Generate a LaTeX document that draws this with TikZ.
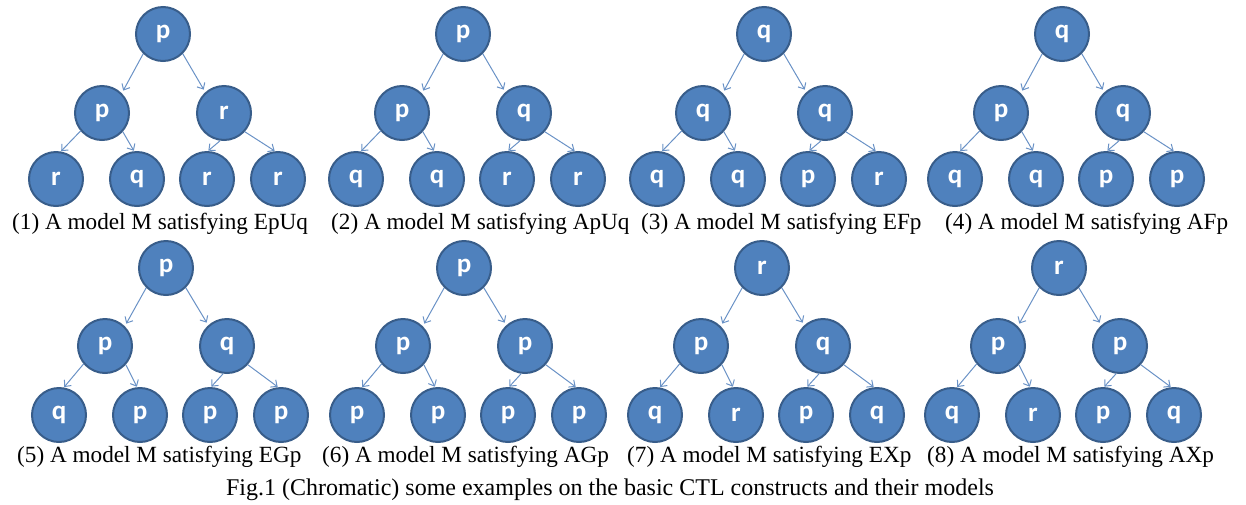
\documentclass[tikz,border=0pt]{standalone}
\usepackage{fontspec}
\setmainfont{Liberation Serif}
\newfontfamily\lblfont{Carlito}
\usetikzlibrary{arrows.meta}
\definecolor{nodefill}{HTML}{4F81BD}
\definecolor{nodeline}{HTML}{385D8A}
\definecolor{edgecol}{HTML}{6A92C6}
\tikzset{
  state/.style={circle, minimum size=54pt, inner sep=0pt, fill=nodefill, draw=nodeline, line width=2pt,
    text=white, font=\lblfont\bfseries\fontsize{27}{27}\selectfont},
  edge/.style={draw=edgecol, line width=1pt, -{Straight Barb[length=5pt,width=9pt]}},
  captext/.style={anchor=base west, inner sep=0pt, font=\fontsize{23.2}{28}\selectfont},
  figtext/.style={anchor=base, inner sep=0pt, font=\fontsize{24}{28}\selectfont},
}
% #1 prefix, #2 root x, #3..#9 labels (root, L, R, LL, LR, RL, RR)
\newcommand\ctltree[9]{%
  \node[state] (#1r) at (#2,\ya) {#3};
  \node[state] (#1a) at (#2-61,\yb) {#4};
  \node[state] (#1b) at (#2+61,\yb) {#5};
  \node[state] (#1aa) at (#2-107,\yc) {#6};
  \node[state] (#1ab) at (#2-26,\yc) {#7};
  \node[state] (#1ba) at (#2+44,\yc) {#8};
  \node[state] (#1bb) at (#2+115,\yc) {#9};
  \draw[edge, shorten >=3pt] (#1r.225) -- (#1a.45);
  \draw[edge, shorten >=3pt] (#1r.315) -- (#1b.132);
  \draw[edge, shorten >=0.5pt] (#1a.220) -- (#1aa.80);
  \draw[edge, shorten >=0.5pt] (#1a.318) -- (#1ab.96);
  \draw[edge, shorten >=0.5pt] (#1b.262) -- (#1ba.88);
  \draw[edge, shorten >=0.5pt] (#1b.318) -- (#1bb.96);
}
\begin{document}
\begin{tikzpicture}[x=1pt,y=-1pt]
\useasboundingbox (0,0) rectangle (1246,504);
% row 1
\def\ya{34}\def\yb{113}\def\yc{179}
\ctltree{t1}{163}{p}{p}{r}{r}{q}{r}{r}
\ctltree{t2}{463}{p}{p}{q}{q}{q}{r}{r}
\ctltree{t3}{764}{q}{q}{q}{q}{q}{p}{r}
\ctltree{t4}{1062}{q}{p}{q}{q}{q}{p}{p}
\node[captext] (c1) at (12,229) {(1) A model M satisfying EpUq};
\node[captext] (c2) at (331,229) {(2) A model M satisfying ApUq};
\node[captext] (c3) at (641,229) {(3) A model M satisfying EFp};
\node[captext] (c4) at (945,229) {(4) A model M satisfying AFp};
% row 2
\def\ya{268}\def\yb{346}\def\yc{415}
\ctltree{t5}{166}{p}{p}{q}{q}{p}{p}{p}
\ctltree{t6}{464}{p}{p}{p}{p}{p}{p}{p}
\ctltree{t7}{762}{r}{p}{q}{q}{r}{p}{q}
\ctltree{t8}{1059}{r}{p}{p}{q}{r}{p}{q}
\node[captext] (c5) at (17,462) {(5) A model M satisfying EGp};
\node[captext] (c6) at (322,462) {(6) A model M satisfying AGp};
\node[captext] (c7) at (627,462) {(7) A model M satisfying EXp};
\node[captext] (c8) at (927,462) {(8) A model M satisfying AXp};
\node[figtext] (fig) at (610,495) {Fig.1 (Chromatic) some examples on the basic CTL constructs and their models};
\end{tikzpicture}
\end{document}
